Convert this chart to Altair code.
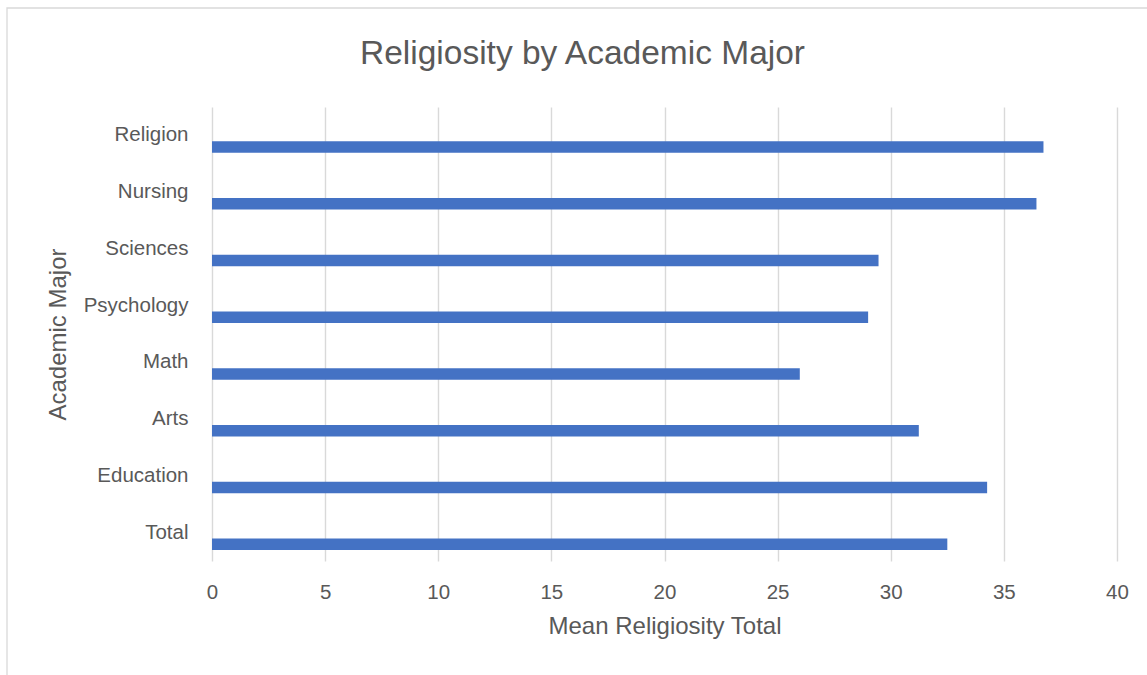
import altair as alt
import pandas as pd

majors = ["Religion", "Nursing", "Sciences", "Psychology", "Math", "Arts", "Education", "Total"]
mean_religiosity = [36.75, 36.44, 29.46, 29.0, 25.98, 31.24, 34.26, 32.5]

df = pd.DataFrame({"major": majors, "value": mean_religiosity})

TEXT = "#595959"
FONT = "Liberation Sans"

bars = alt.Chart(df).mark_bar(color="#4472C4", size=11.7, yOffset=11.6).encode(
    x=alt.X(
        "value:Q",
        scale=alt.Scale(domain=[0, 40], nice=False),
        axis=alt.Axis(
            values=[0, 5, 10, 15, 20, 25, 30, 35, 40],
            title="Mean Religiosity Total",
            grid=True,
            gridColor="#D9D9D9",
            gridWidth=1.4,
            domain=False,
            ticks=False,
            labelFlush=False,
            labelPadding=21,
            labelFontSize=20.5,
            labelColor=TEXT,
            labelFont=FONT,
            titleFont=FONT,
            titleFontSize=24,
            titleFontWeight="normal",
            titleColor=TEXT,
            titlePadding=12,
        ),
    ),
    y=alt.Y(
        "major:N",
        sort=majors,
        scale=alt.Scale(paddingInner=0, paddingOuter=0),
        axis=alt.Axis(
            title="Academic Major",
            domain=False,
            ticks=False,
            grid=False,
            labelPadding=24,
            labelFontSize=20.5,
            labelColor=TEXT,
            labelFont=FONT,
            titleFont=FONT,
            titleFontSize=24,
            titleFontWeight="normal",
            titleColor=TEXT,
            titleX=-147,
            titleY=227,
            titleBaseline="alphabetic",
            titleAngle=-90,
            titleAlign="center",
        ),
    ),
)

border = alt.Chart(alt.Data(values=[{}])).mark_rect(
    fill=None, stroke="#D9D9D9", strokeWidth=1.3
).encode(
    x=alt.value(-205), x2=alt.value(1000), y=alt.value(-99), y2=alt.value(700)
)

chart = alt.layer(border, bars).properties(
    width=905,
    height=454,
    background="white",
    padding={"left": 212, "top": 107, "right": 30, "bottom": 114},
    autosize=alt.AutoSizeParams(type="none"),
    title=alt.TitleParams(
        "Religiosity by Academic Major",
        font=FONT,
        fontSize=33.5,
        fontWeight="normal",
        color=TEXT,
        anchor="middle",
        frame="group",
        dx=-82,
        dy=90.6,
        baseline="alphabetic",
        offset=0,
    ),
).configure_view(strokeWidth=0, stroke="transparent")

chart.save("out.html", embed_options={"renderer": "svg", "actions": False})
